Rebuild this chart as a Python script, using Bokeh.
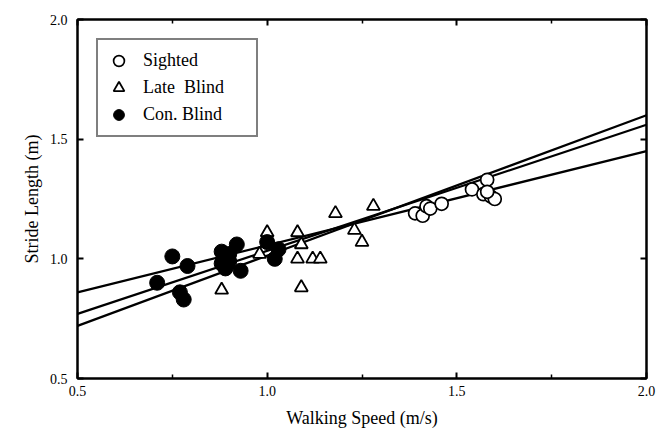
from bokeh.plotting import figure
from bokeh.models import (Legend, LegendItem, LinearAxis, FixedTicker,
                          PrintfTickFormatter)
from bokeh.embed import file_html
from bokeh.resources import INLINE

# ---- data ----
sighted_x = [1.39, 1.41, 1.42, 1.43, 1.46, 1.54, 1.58, 1.57, 1.59, 1.60, 1.58]
sighted_y = [1.19, 1.18, 1.22, 1.21, 1.23, 1.29, 1.33, 1.27, 1.26, 1.25, 1.28]

late_x = [0.88, 0.98, 1.00, 1.08, 1.09, 1.08, 1.12, 1.14, 1.09, 1.18, 1.23, 1.25, 1.28]
late_y = [0.87, 1.02, 1.11, 1.11, 1.06, 1.00, 1.00, 1.00, 0.88, 1.19, 1.12, 1.07, 1.22]

con_x = [0.71, 0.75, 0.77, 0.78, 0.79, 0.88, 0.88, 0.89, 0.90, 0.90, 0.92, 0.93,
         0.89, 1.00, 1.02, 1.03]
con_y = [0.90, 1.01, 0.86, 0.83, 0.97, 1.03, 0.98, 0.96, 1.02, 0.99, 1.06, 0.95,
         1.00, 1.07, 1.00, 1.04]

# regression lines: values at x = 0.5 and x = 2.0
line_x = [0.5, 2.0]
line1_y = [0.86, 1.45]
line2_y = [0.77, 1.56]
line3_y = [0.72, 1.60]

x_ticks = [0.5, 1.0, 1.5, 2.0]
x_minor = [0.75, 1.25, 1.75]
y_ticks = [0.5, 1.0, 1.5, 2.0]

SERIF = "Liberation Serif"

p = figure(width=656, height=430, x_range=(0.5, 2.0), y_range=(0.5, 2.0),
           output_backend="svg", toolbar_location=None,
           min_border_left=77, min_border_top=19, min_border_right=10,
           min_border_bottom=51)
p.grid.visible = False
p.background_fill_color = "white"
p.border_fill_color = "white"
p.outline_line_color = "black"
p.outline_line_width = 2

for ly in (line1_y, line2_y, line3_y):
    p.line(line_x, ly, line_color="black", line_width=2.2)

r_s = p.scatter(sighted_x, sighted_y, marker="circle", size=13,
                fill_color="white", line_color="black", line_width=1.7)
r_l = p.scatter(late_x, late_y, marker="triangle", size=13,
                fill_color="white", line_color="black", line_width=1.8)
r_c = p.scatter(con_x, con_y, marker="circle", size=15,
                fill_color="black", line_color="black", line_width=1)

def style(ax):
    ax.axis_line_color = "black"
    ax.axis_line_width = 2
    ax.major_tick_in = 6
    ax.major_tick_out = 0
    ax.major_tick_line_width = 2
    ax.minor_tick_in = 4
    ax.minor_tick_out = 0
    ax.minor_tick_line_width = 1.5
    ax.major_label_text_font = SERIF
    ax.major_label_text_font_size = "14px"
    ax.major_label_text_color = "black"
    ax.axis_label_text_color = "black"
    ax.formatter = PrintfTickFormatter(format="%.1f")

xa = p.xaxis[0]
xa.ticker = FixedTicker(ticks=x_ticks, minor_ticks=x_minor)
style(xa)
xa.major_label_standoff = 7
xa.axis_label = "Walking Speed (m/s)"
xa.axis_label_text_font = SERIF
xa.axis_label_text_font_size = "18px"
xa.axis_label_text_font_style = "normal"
xa.axis_label_standoff = 9

ya = p.yaxis[0]
ya.ticker = FixedTicker(ticks=y_ticks)
style(ya)
ya.minor_tick_line_color = None
ya.major_label_standoff = 10
ya.axis_label = "Stride Length (m)"
ya.axis_label_text_font = SERIF
ya.axis_label_text_font_size = "18px"
ya.axis_label_text_font_style = "normal"
ya.axis_label_standoff = 5

top = LinearAxis(ticker=FixedTicker(ticks=x_ticks, minor_ticks=x_minor))
style(top)
top.major_label_overrides = {t: "" for t in x_ticks}
top.major_label_standoff = 0
p.add_layout(top, "above")
right = LinearAxis(ticker=FixedTicker(ticks=y_ticks))
style(right)
right.minor_tick_line_color = None
right.major_label_overrides = {t: "" for t in y_ticks}
right.major_label_standoff = 0
p.add_layout(right, "right")

legend = Legend(items=[
    LegendItem(label="Sighted", renderers=[r_s]),
    LegendItem(label="Late  Blind", renderers=[r_l]),
    LegendItem(label="Con. Blind", renderers=[r_c]),
], location="top_left")
legend.margin = 19
legend.padding = 7
legend.spacing = 0
legend.glyph_width = 27
legend.glyph_height = 27
legend.label_height = 27
legend.label_width = 106
legend.label_standoff = 11
legend.label_text_font = SERIF
legend.label_text_font_size = "18px"
legend.label_text_color = "black"
legend.border_line_color = "black"
legend.border_line_width = 2
legend.background_fill_color = "white"
legend.background_fill_alpha = 1
p.add_layout(legend, "center")

open("out.html", "w").write(file_html(p, INLINE))
